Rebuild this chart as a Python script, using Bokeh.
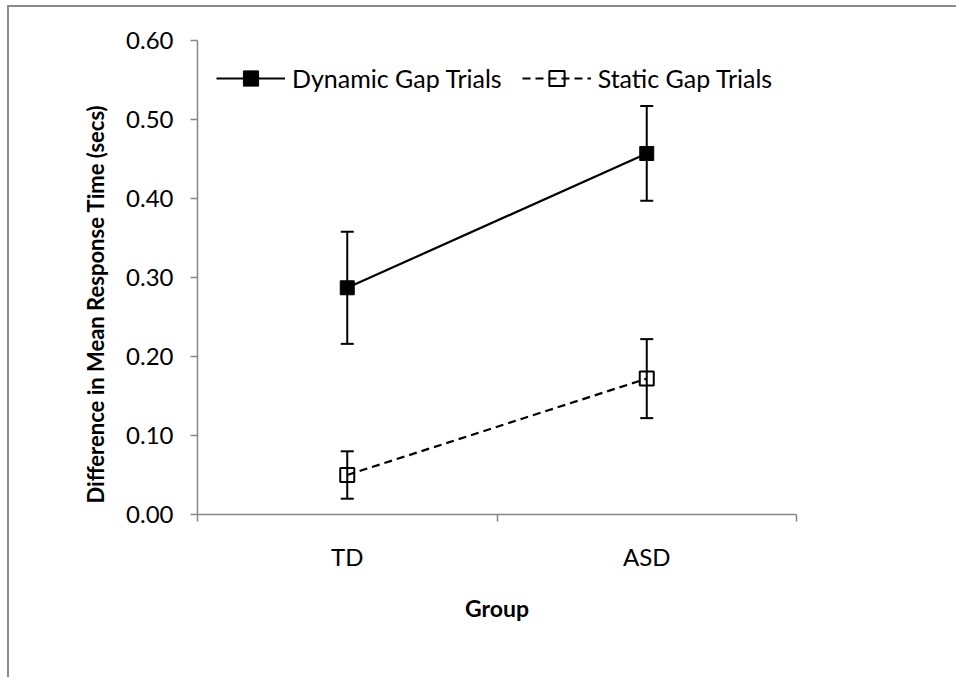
from bokeh.plotting import figure
from bokeh.models import (ColumnDataSource, FixedTicker, NumeralTickFormatter,
                          Whisker, TeeHead, Legend, LegendItem, Title)
from bokeh.embed import file_html
from bokeh.resources import INLINE

# ---- data ----
groups = ["TD", "ASD"]
series_names = ["Dynamic Gap Trials", "Static Gap Trials"]
dynamic_mean = [0.287, 0.457]
dynamic_err = [0.071, 0.060]
static_mean = [0.050, 0.172]
static_err = [0.030, 0.050]
y_ticks = [0.0, 0.1, 0.2, 0.3, 0.4, 0.5, 0.6]
x_title = "Group"
y_title = "Difference in Mean Response Time (secs)"

FONT = "Lato"
AXIS_GREY = "#868686"
TXT = "#000000"

x_centers = [i + 0.5 for i in range(len(groups))]
x_bounds = [i for i in range(len(groups) + 1)]

p = figure(width=949, height=672,
           x_range=(0, len(groups)), y_range=(0, y_ticks[-1]),
           output_backend="svg", toolbar_location=None,
           min_border_left=188, min_border_right=162,
           min_border_top=33, min_border_bottom=165)
p.styles = {"border-top": "2px solid #8a8a8a", "border-left": "2px solid #8a8a8a",
            "margin-top": "5px", "margin-left": "7px"}
p.outline_line_color = None
p.grid.visible = False
p.background_fill_color = "white"
p.border_fill_color = "white"

# x axis: category labels at centres, tick marks at boundaries
xa = p.xaxis[0]
xa.ticker = FixedTicker(ticks=x_centers, minor_ticks=x_bounds)
xa.major_label_overrides = {x: g for x, g in zip(x_centers, groups)}
xa.major_tick_line_color = None
xa.major_tick_out = 0
xa.major_tick_in = 0
xa.minor_tick_line_color = AXIS_GREY
xa.minor_tick_line_width = 1.5
xa.minor_tick_out = 7
xa.minor_tick_in = 0
xa.axis_line_color = AXIS_GREY
xa.axis_line_width = 1.5
xa.major_label_text_font = FONT
xa.major_label_text_font_size = "24px"
xa.major_label_text_color = TXT
xa.major_label_standoff = 20
xa.axis_label = x_title
xa.axis_label_text_font = FONT
xa.axis_label_text_font_style = "bold"
xa.axis_label_text_font_size = "23px"
xa.axis_label_text_color = TXT
xa.axis_label_standoff = 20

ya = p.yaxis[0]
ya.ticker = FixedTicker(ticks=y_ticks, minor_ticks=[])
ya.formatter = NumeralTickFormatter(format="0.00")
ya.major_tick_line_color = AXIS_GREY
ya.major_tick_line_width = 1.5
ya.major_tick_out = 7
ya.major_tick_in = 0
ya.minor_tick_line_color = None
ya.axis_line_color = AXIS_GREY
ya.axis_line_width = 1.5
ya.major_label_text_font = FONT
ya.major_label_text_font_size = "24px"
ya.major_label_text_color = TXT
ya.major_label_standoff = 17

# y-axis title as a side title (sits a little below the frame centre, as in the reference)
p.add_layout(Title(text=y_title, align="left", offset=11, standoff=30,
                   text_font=FONT, text_font_style="bold",
                   text_font_size="22px", text_color=TXT), "left")

# error bars
for means, errs in ((dynamic_mean, dynamic_err), (static_mean, static_err)):
    src = ColumnDataSource(dict(
        x=x_centers,
        upper=[m + e for m, e in zip(means, errs)],
        lower=[m - e for m, e in zip(means, errs)]))
    w = Whisker(base="x", upper="upper", lower="lower", source=src,
                dimension="height", line_color="black", line_width=2,
                upper_head=TeeHead(size=13, line_width=2, line_color="black"),
                lower_head=TeeHead(size=13, line_width=2, line_color="black"))
    p.add_layout(w)

l1 = p.line(x_centers, dynamic_mean, line_color="black", line_width=2.2)
s1 = p.scatter(x_centers, dynamic_mean, marker="square", size=14,
               fill_color="black", line_color="black", line_width=1)
l2 = p.line(x_centers, static_mean, line_color="black", line_width=2.2,
            line_dash="8 5")
s2 = p.scatter(x_centers, static_mean, marker="square", size=14,
               fill_color=None, line_color="black", line_width=2)

legend = Legend(items=[LegendItem(label=series_names[0], renderers=[l1, s1]),
                       LegendItem(label=series_names[1], renderers=[l2, s2])],
                orientation="horizontal", location="top_left",
                border_line_color=None, background_fill_alpha=0,
                margin=19, padding=13, spacing=20,
                glyph_width=69, glyph_height=38, label_standoff=7,
                label_text_font=FONT, label_text_font_size="25px",
                label_text_color=TXT)
p.add_layout(legend)

open("out.html", "w").write(file_html(p, INLINE))
